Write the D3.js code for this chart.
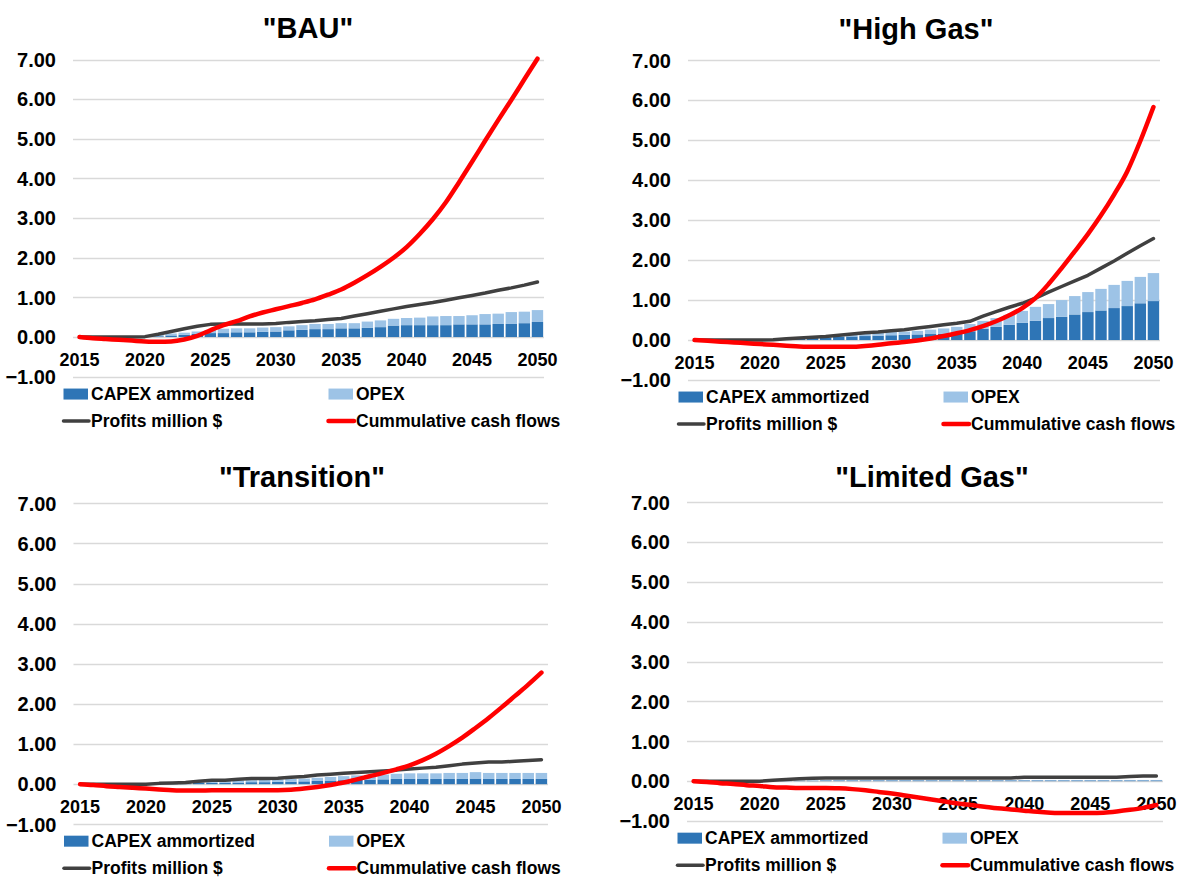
<!DOCTYPE html>
<html>
<head>
<meta charset="utf-8">
<script src="https://cdn.jsdelivr.net/npm/d3@7"></script>
<style>
  body { margin: 0; background: #fff; }
  svg { display: block; font-family: Arial, "Liberation Sans", sans-serif; }
  .title { font-size: 29px; font-weight: bold; fill: #000; }
  .ytick { font-size: 20px; font-weight: bold; fill: #000; }
  .xtick { font-size: 18px; font-weight: bold; fill: #000; }
  .legend-text { font-size: 17.5px; font-weight: bold; fill: #000; }
</style>
</head>
<body>
<svg id="chart" width="1178" height="878"></svg>
<script>
var years = d3.range(2015, 2051);
var yTicks = [-1, 0, 1, 2, 3, 4, 5, 6, 7];
var xTickYears = [2015, 2020, 2025, 2030, 2035, 2040, 2045, 2050];
var seriesNames = ["CAPEX ammortized", "OPEX", "Profits million $", "Cummulative cash flows"];
var scenarioTitles = ['"BAU"', '"High Gas"', '"Transition"', '"Limited Gas"'];

// BAU
var bauCapex = [0, 0, 0, 0, 0, 0, 0.02, 0.04, 0.06, 0.08, 0.10, 0.10, 0.12, 0.12, 0.13, 0.14, 0.17, 0.18, 0.20, 0.20,
    0.22, 0.22, 0.23, 0.25, 0.29, 0.30, 0.30, 0.30, 0.30, 0.32, 0.32, 0.32, 0.33, 0.33, 0.35, 0.38];
var bauOpex = [0, 0, 0, 0, 0, 0, 0.03, 0.05, 0.05, 0.06, 0.08, 0.11, 0.10, 0.10, 0.11, 0.11, 0.10, 0.12, 0.13, 0.13,
    0.13, 0.13, 0.16, 0.17, 0.17, 0.18, 0.19, 0.22, 0.23, 0.21, 0.23, 0.26, 0.26, 0.30, 0.29, 0.30];
var bauProfits = [0, 0, 0, 0, 0, 0.01, 0.07, 0.14, 0.21, 0.27, 0.32, 0.33, 0.33, 0.33, 0.33, 0.34, 0.37, 0.39, 0.41, 0.44,
    0.47, 0.53, 0.59, 0.65, 0.71, 0.77, 0.82, 0.87, 0.93, 0.99, 1.05, 1.11, 1.18, 1.24, 1.31, 1.39];
var bauCash = [0, -0.03, -0.05, -0.07, -0.09, -0.11, -0.12, -0.11, -0.06, 0.03, 0.17, 0.30, 0.40, 0.52, 0.62, 0.70, 0.78, 0.86, 0.95, 1.07,
    1.20, 1.37, 1.56, 1.77, 2.00, 2.27, 2.60, 2.97, 3.40, 3.90, 4.42, 4.95, 5.47, 5.98, 6.50, 7.02];

// High Gas
var highCapex = [0, 0, 0, 0, 0, 0, 0.01, 0.02, 0.03, 0.05, 0.06, 0.08, 0.09, 0.10, 0.11, 0.12, 0.13, 0.14, 0.15, 0.16,
    0.18, 0.22, 0.28, 0.33, 0.38, 0.43, 0.48, 0.55, 0.58, 0.64, 0.70, 0.74, 0.80, 0.85, 0.92, 0.975];
var highOpex = [0, 0, 0, 0, 0, 0, 0.01, 0.02, 0.03, 0.03, 0.04, 0.04, 0.05, 0.06, 0.07, 0.08, 0.08, 0.09, 0.11, 0.13,
    0.15, 0.18, 0.20, 0.22, 0.25, 0.30, 0.35, 0.35, 0.42, 0.46, 0.50, 0.54, 0.58, 0.63, 0.66, 0.70];
var highProfits = [0, 0, 0, 0, 0, 0, 0.01, 0.03, 0.05, 0.07, 0.09, 0.12, 0.15, 0.18, 0.20, 0.23, 0.26, 0.30, 0.34, 0.38,
    0.42, 0.47, 0.60, 0.71, 0.82, 0.92, 1.05, 1.20, 1.34, 1.48, 1.62, 1.80, 1.98, 2.17, 2.36, 2.54];
var highCash = [0, -0.02, -0.04, -0.06, -0.08, -0.10, -0.12, -0.14, -0.16, -0.17, -0.17, -0.17, -0.17, -0.15, -0.12, -0.08, -0.05, -0.01, 0.04, 0.10,
    0.17, 0.25, 0.35, 0.47, 0.62, 0.80, 1.05, 1.40, 1.80, 2.22, 2.65, 3.12, 3.64, 4.22, 4.98, 5.83];

// Transition
var transCapex = [0, 0, 0, 0, 0, 0, 0, 0.01, 0.02, 0.03, 0.03, 0.04, 0.04, 0.05, 0.05, 0.06, 0.06, 0.07, 0.08, 0.09,
    0.10, 0.11, 0.11, 0.12, 0.13, 0.13, 0.13, 0.13, 0.13, 0.13, 0.14, 0.13, 0.13, 0.13, 0.13, 0.13];
var transOpex = [0, 0, 0, 0, 0, 0, 0.01, 0.01, 0.02, 0.03, 0.04, 0.04, 0.05, 0.05, 0.06, 0.06, 0.07, 0.07, 0.08, 0.09,
    0.10, 0.11, 0.12, 0.12, 0.13, 0.14, 0.14, 0.14, 0.15, 0.15, 0.16, 0.15, 0.15, 0.15, 0.15, 0.15];
var transProfits = [0, 0, 0, 0, 0, 0, 0.02, 0.03, 0.04, 0.07, 0.10, 0.10, 0.12, 0.14, 0.14, 0.15, 0.17, 0.19, 0.23, 0.25,
    0.27, 0.29, 0.31, 0.33, 0.35, 0.38, 0.40, 0.42, 0.46, 0.50, 0.53, 0.55, 0.55, 0.57, 0.59, 0.61];
var transCash = [0, -0.02, -0.05, -0.07, -0.09, -0.11, -0.13, -0.15, -0.16, -0.16, -0.15, -0.15, -0.15, -0.15, -0.15, -0.15, -0.14, -0.11, -0.07, -0.02,
    0.04, 0.12, 0.20, 0.28, 0.37, 0.47, 0.60, 0.76, 0.95, 1.16, 1.40, 1.65, 1.92, 2.20, 2.48, 2.78];

// Limited Gas
var limCapex = [0, 0, 0, 0, 0, 0, 0, 0.01, 0.01, 0.01, 0.02, 0.02, 0.02, 0.02, 0.02, 0.02, 0.02, 0.02, 0.02, 0.02,
    0.02, 0.02, 0.02, 0.02, 0.02, 0.02, 0.02, 0.02, 0.02, 0.02, 0.02, 0.02, 0.02, 0.02, 0.02, 0.02];
var limOpex = [0, 0, 0, 0, 0, 0, 0, 0, 0.01, 0.01, 0.01, 0.01, 0.01, 0.01, 0.01, 0.01, 0.01, 0.01, 0.01, 0.01,
    0.01, 0.01, 0.01, 0.01, 0.01, 0.01, 0.01, 0.01, 0.01, 0.01, 0.01, 0.01, 0.01, 0.01, 0.01, 0.01];
var limProfits = [0, 0, 0, 0, 0, 0, 0.02, 0.04, 0.06, 0.07, 0.08, 0.08, 0.08, 0.08, 0.08, 0.08, 0.08, 0.08, 0.08, 0.08,
    0.08, 0.08, 0.08, 0.08, 0.08, 0.10, 0.10, 0.10, 0.10, 0.10, 0.10, 0.10, 0.10, 0.12, 0.13, 0.13];
var limCash = [0, -0.02, -0.05, -0.07, -0.10, -0.12, -0.15, -0.16, -0.17, -0.17, -0.17, -0.18, -0.20, -0.23, -0.27, -0.31, -0.36, -0.41, -0.46, -0.51,
    -0.56, -0.60, -0.64, -0.68, -0.71, -0.74, -0.77, -0.79, -0.80, -0.80, -0.80, -0.79, -0.76, -0.72, -0.67, -0.60];

var colors = { capex: "#2E75B6", opex: "#9DC3E6", profits: "#404040", cash: "#FF0000", grid: "#D9D9D9" };

// layout of the four panels (plot area box + title position)
var panels = [
    { title: scenarioTitles[0], left: 73, right: 544, top: 59.5, bottom: 376.7, tx: 308, ty: 38,
      capex: bauCapex, opex: bauOpex, profits: bauProfits, cash: bauCash },
    { title: scenarioTitles[1], left: 688, right: 1160, top: 60.3, bottom: 380, tx: 916, ty: 39,
      capex: highCapex, opex: highOpex, profits: highProfits, cash: highCash },
    { title: scenarioTitles[2], left: 73.5, right: 548, top: 503.3, bottom: 824.3, tx: 302, ty: 487,
      capex: transCapex, opex: transOpex, profits: transProfits, cash: transCash },
    { title: scenarioTitles[3], left: 687, right: 1163, top: 502.3, bottom: 821, tx: 932, ty: 487,
      capex: limCapex, opex: limOpex, profits: limProfits, cash: limCash }
];

var svg = d3.select("#chart");

panels.forEach(function(p) {
    var g = svg.append("g");

    var x = d3.scaleBand()
        .domain(years)
        .range([p.left, p.right])
        .paddingInner(0.13)
        .paddingOuter(0.065);

    var y = d3.scaleLinear()
        .domain([-1, 7])
        .range([p.bottom, p.top]);

    var cx = function(d, i) { return x(years[i]) + x.bandwidth() / 2; };

    // title
    g.append("text")
        .attr("class", "title")
        .attr("x", p.tx)
        .attr("y", p.ty)
        .attr("text-anchor", "middle")
        .text(p.title);

    // gridlines
    g.append("g")
        .selectAll("line")
        .data(yTicks)
        .enter()
        .append("line")
            .attr("x1", p.left)
            .attr("x2", p.right)
            .attr("y1", d => Math.round(y(d)) + 0.5)
            .attr("y2", d => Math.round(y(d)) + 0.5)
            .attr("stroke", colors.grid)
            .attr("stroke-width", 1.5);

    // y tick labels
    g.append("g")
        .selectAll("text")
        .data(yTicks)
        .enter()
        .append("text")
            .attr("class", "ytick")
            .attr("x", p.left - 17)
            .attr("y", d => y(d))
            .attr("dy", "0.36em")
            .attr("text-anchor", "end")
            .text(d3.format(".2f"));

    // stacked bars
    var stacked = years.map(function(yr, i) {
        return { year: yr, capex: p.capex[i], opex: p.opex[i] };
    });
    var stack = d3.stack().keys(["capex", "opex"])(stacked);

    g.append("g")
        .selectAll("g")
        .data(stack)
        .enter()
        .append("g")
            .attr("fill", d => colors[d.key])
        .selectAll("rect")
        .data(d => d)
        .enter()
        .append("rect")
            .attr("x", d => x(d.data.year))
            .attr("width", x.bandwidth())
            .attr("y", d => y(d[1]))
            .attr("height", d => Math.max(0, y(d[0]) - y(d[1])));

    // x labels sit just under the zero line
    g.append("g")
        .selectAll("text")
        .data(xTickYears)
        .enter()
        .append("text")
            .attr("class", "xtick")
            .attr("x", d => x(d) + x.bandwidth() / 2)
            .attr("y", y(0) + 22)
            .attr("dy", "0.36em")
            .attr("text-anchor", "middle")
            .text(d => d);

    var profitsLine = d3.line()
        .x(cx)
        .y(d => y(d));

    var cashLine = d3.line()
        .x(cx)
        .y(d => y(d))
        .curve(d3.curveMonotoneX);

    g.append("path")
        .attr("d", profitsLine(p.profits))
        .attr("fill", "none")
        .attr("stroke", colors.profits)
        .attr("stroke-width", 3.5)
        .attr("stroke-linejoin", "round")
        .attr("stroke-linecap", "round");

    g.append("path")
        .attr("d", cashLine(p.cash))
        .attr("fill", "none")
        .attr("stroke", colors.cash)
        .attr("stroke-width", 4.5)
        .attr("stroke-linejoin", "round")
        .attr("stroke-linecap", "round");

    // legend
    var row1 = y(0) + 57,
        row2 = y(0) + 84,
        col1 = p.left - 9.5,
        col2 = p.left + 255.5,
        swW = 24.5;

    var legend = g.append("g");
    var items = [
        { name: seriesNames[0], type: "rect", color: colors.capex, lx: col1, ly: row1 },
        { name: seriesNames[1], type: "rect", color: colors.opex, lx: col2, ly: row1 },
        { name: seriesNames[2], type: "line", color: colors.profits, lx: col1, ly: row2, w: 3.5 },
        { name: seriesNames[3], type: "line", color: colors.cash, lx: col2, ly: row2, w: 4.5 }
    ];

    items.forEach(function(it) {
        if (it.type === "rect") {
            legend.append("rect")
                .attr("x", it.lx)
                .attr("y", it.ly - 5.5)
                .attr("width", swW)
                .attr("height", 11)
                .attr("fill", it.color);
        } else {
            legend.append("line")
                .attr("x1", it.lx)
                .attr("x2", it.lx + swW + 1)
                .attr("y1", it.ly)
                .attr("y2", it.ly)
                .attr("stroke", it.color)
                .attr("stroke-width", it.w)
                .attr("stroke-linecap", "round");
        }
        legend.append("text")
            .attr("class", "legend-text")
            .attr("x", it.lx + 27.5)
            .attr("y", it.ly)
            .attr("dy", "0.36em")
            .text(it.name);
    });
});
</script>
</body>
</html>
